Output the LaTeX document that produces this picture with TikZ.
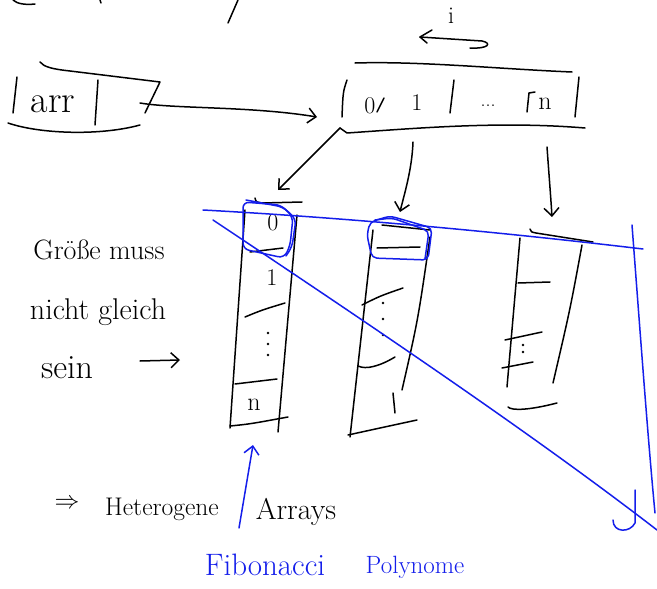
\documentclass[tikz,border=0pt]{standalone}
\usepackage{fontspec}
\usetikzlibrary{arrows.meta}
\definecolor{pen}{RGB}{20,30,235}
\begin{document}
\begin{tikzpicture}[x=1pt,y=-1pt,
  ink/.style={line width=1.5pt,line cap=round,line join=round},
  blueink/.style={ink,draw=pen},
  barb/.style={-{Straight Barb[length=8pt,width=15pt,line width=1.5pt]}},
  hand/.style={inner sep=0pt,font=\fontsize{#1}{#1}\selectfont},
  bluehand/.style={hand=#1,text=pen}]
\useasboundingbox[fill=white] (0,0) rectangle (657,589);

% stray strokes along the top edge
\draw[ink] (13,0) .. controls (17,4) and (26,5) .. (35,4);
\draw[ink] (100,0) -- (101,3);
\draw[ink] (238,0) -- (228,23);

% pointer cell "arr"
\draw[ink] (40,62) .. controls (44,67) and (52,69) .. (70,71) -- (160,82) -- (145,113);
\draw[ink] (17,77) -- (13,113);
\draw[ink] (98,80) -- (95,125);
\draw[ink] (8,123) .. controls (40,134) and (100,136) .. (140,125);
\node[hand=38] (arr) at (53,104) {arr};
\coordinate (ptr) at (140,103);

% outer array 0 .. n
\draw[ink] (355,63) .. controls (420,61) and (500,69) .. (572,72);
\draw[ink] (347,80) .. controls (343,92) .. (342,117);
\draw[ink] (384,98) -- (377,112);
\draw[ink] (454,80) -- (450,113);
\draw[ink] (527,112) -- (529,93) -- (535,92);
\draw[ink] (579,77) -- (575,117);
\draw[ink] (340,128) -- (347,133) .. controls (420,128) and (500,121) .. (585,128);
\node[hand=24] (o0) at (370,106) {0};
\node[hand=24] (o1) at (417,103) {1};
\node[hand=20] (odots) at (488,106) {...};
\node[hand=26] (on) at (545,104) {n};
\coordinate (arrin) at (317,117);
\draw[ink,barb] (ptr) .. controls (175,109) and (250,106) .. (arrin);

% index i with its double arrow
\node[hand=24] (idx) at (451,16) {i};
\coordinate (il) at (420,37);
\coordinate (ir) at (482,41);
\draw[ink] (432,30) -- (il) -- (427,43);
\draw[ink] (il) -- (ir) .. controls (492,43) and (489,49) .. (470,48);

% arrows into the rows
\coordinate (a1) at (340,128);
\coordinate (c1) at (278,190);
\coordinate (a2) at (413,142);
\coordinate (c2) at (400,212);
\coordinate (a3) at (547,147);
\coordinate (c3) at (552,217);
\draw[ink,barb] (a1) -- (c1);
\draw[ink,barb] (a2) .. controls (412,170) and (404,195) .. (c2);
\draw[ink,barb] (a3) .. controls (549,175) and (551,200) .. (c3);

% row 1
\draw[ink] (255,198) .. controls (256,202) .. (262,203) -- (302,202);
\draw[ink] (245,210) -- (230,428);
\draw[ink] (297,215) -- (278,432);
\draw[ink] (250,252) -- (283,248);
\draw[ink] (245,317) .. controls (262,310) .. (285,303);
\draw[ink] (235,384) -- (277,379);
\draw[ink] (230,426) .. controls (250,424) .. (288,417);
\node[hand=24] (r1a) at (273,223) {0};
\node[hand=24] (r1b) at (272,278) {1};
\foreach \y in {333,344,355} \fill (268,\y) circle (1.3pt);
\node[hand=26] (r1n) at (254,405) {n};

% row 2
\draw[ink] (382,225) -- (430,230);
\draw[ink] (377,248) -- (420,247);
\draw[ink] (373,230) -- (350,437);
\draw[ink] (430,237) .. controls (418,320) .. (402,390);
\draw[ink] (393,393) -- (395,413);
\draw[ink] (362,305) .. controls (380,296) .. (403,288);
\draw[ink] (358,366) .. controls (366,370) and (380,366) .. (395,357);
\draw[ink] (348,435) .. controls (380,428) .. (417,420);
\foreach \y in {303,319,335} \fill (383,\y) circle (1.3pt);

% row 3
\draw[ink] (530,229) .. controls (531,232) .. (536,233) -- (593,242);
\draw[ink] (520,238) -- (507,387);
\draw[ink] (582,245) .. controls (570,310) .. (553,383);
\draw[ink] (518,283) -- (550,282);
\draw[ink] (505,340) -- (542,332);
\draw[ink] (502,368) -- (533,362);
\draw[ink] (508,407) .. controls (512,411) and (530,410) .. (557,403);
\foreach \y in {345,352} \fill (523,\y) circle (1.3pt);

% highlighted first entries
\draw[blueink,rounded corners=6pt] (243,202) -- (281,205) -- (293,217) -- (290,246) -- (284,258) -- (243,249) -- cycle;
\draw[blueink,rounded corners=6pt] (246,200) -- (283,207) -- (296,219) -- (292,247) -- (286,256);
\draw[blueink,rounded corners=5pt] (370,222) -- (390,216) -- (432,228) -- (428,260) -- (372,258) -- (367,235) -- cycle;
\draw[blueink,rounded corners=5pt] (375,220) -- (392,218) -- (429,231) -- (425,259);

% blue guide lines
\draw[blueink] (203,210) .. controls (350,218) and (500,232) .. (643,249);
\draw[blueink] (213,220) .. controls (360,318) and (530,432) .. (657,530);
\draw[blueink] (632,225) .. controls (640,330) and (648,440) .. (655,513);
\draw[blueink] (635,490) -- (635,523) .. controls (630,533) and (613,533) .. (613,520);

% left note
\node[hand=28] (note1) at (99,250) {Größe muss};
\node[hand=30] (note2) at (98,312) {nicht gleich};
\node[hand=34] (note3) at (67,368) {sein};
\coordinate (noteend) at (180,360);
\draw[ink,barb] (140,361) -- (noteend);

% bottom line
\node[hand=28] (impl) at (67,504) {$\Rightarrow$};
\node[hand=25.5] (het) at (162,509) {Heterogene};
\node[hand=30] (arrs) at (296,512) {Arrays};
\coordinate (up0) at (239,528);
\coordinate (up1) at (253,445);
\draw[blueink,barb,draw=pen] (up0) -- (up1);
\node[bluehand=31] (fib) at (265,565) {Fibonacci};
\node[bluehand=25] (poly) at (415,567) {Polynome};
\end{tikzpicture}
\end{document}
